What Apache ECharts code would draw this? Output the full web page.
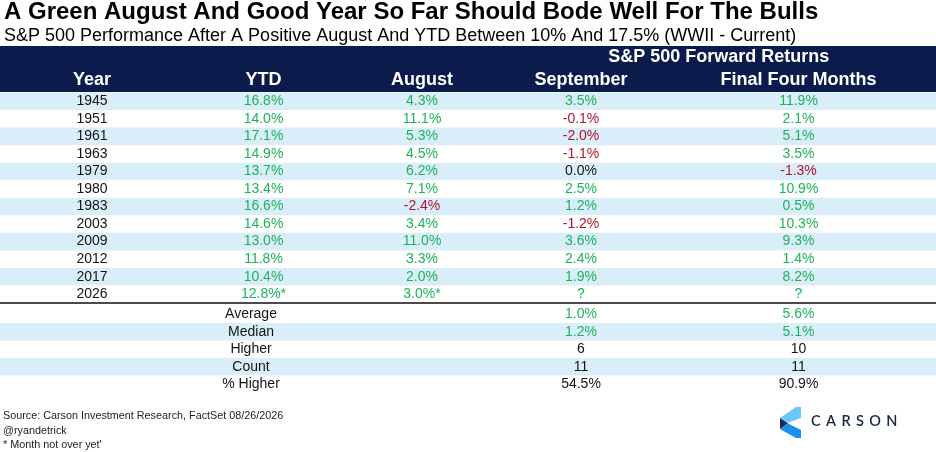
<!DOCTYPE html>
<html><head><meta charset="utf-8">
<script src="https://cdn.jsdelivr.net/npm/echarts@6/dist/echarts.min.js"></script>
<style>html,body{margin:0;padding:0;background:#fff}#c{width:936px;height:452px}</style>
</head><body><div id="c"></div>
<script>
// ---------- data ----------
const titleText = 'A Green August And Good Year So Far Should Bode Well For The Bulls';
const subtitleText = 'S&P 500 Performance After A Positive August And YTD Between 10% And 17.5% (WWII - Current)';
const groupHeader = 'S&P 500 Forward Returns';
const columns = ['Year', 'YTD', 'August', 'September', 'Final Four Months'];
const years = ['1945','1951','1961','1963','1979','1980','1983','2003','2009','2012','2017','2026'];
const ytd = [16.8, 14.0, 17.1, 14.9, 13.7, 13.4, 16.6, 14.6, 13.0, 11.8, 10.4, 12.8];
const august = [4.3, 11.1, 5.3, 4.5, 6.2, 7.1, -2.4, 3.4, 11.0, 3.3, 2.0, 3.0];
const september = [3.5, -0.1, -2.0, -1.1, 0.0, 2.5, 1.2, -1.2, 3.6, 2.4, 1.9, null];
const finalFour = [11.9, 2.1, 5.1, 3.5, -1.3, 10.9, 0.5, 10.3, 9.3, 1.4, 8.2, null];
const partialYears = ['2026'];
const summaryLabels = ['Average', 'Median', 'Higher', 'Count', '% Higher'];
const summarySeptember = [1.0, 1.2, 6, 11, 54.5];
const summaryFinal = [5.6, 5.1, 10, 11, 90.9];
const summaryKinds = ['signed', 'signed', 'count', 'count', 'pct'];
const footerLines = ['Source: Carson Investment Research, FactSet 08/26/2026', '@ryandetrick', "* Month not over yet'"];
const logoText = 'CARSON';

// ---------- style ----------
const FONT = '"Liberation Sans", Arial, Helvetica, sans-serif';
const GREEN = '#1DB35A', RED = '#B3152C', INK = '#141414', NAVY = '#0B1C4C', STRIPE = '#DAEEFA';
const colOffsets = [-1.6, -17.3, -46, -74.2, -43.9];
const summaryLabelOffset = -29.8;
const groupOffset = 63.6;

function pctText(v, star) { return v === null ? '?' : v.toFixed(1) + '%' + (star ? '*' : ''); }
function signColor(v) { return v === null ? GREEN : (v > 0 ? GREEN : (v < 0 ? RED : INK)); }
function summaryText(v, kind) { return kind === 'count' ? String(v) : v.toFixed(1) + '%'; }
function summaryColor(v, kind) { return kind === 'signed' ? signColor(v) : INK; }

function textSeries(xi, yi, offset, items, font) {
  return {
    type: 'scatter', xAxisIndex: xi, yAxisIndex: yi, symbolSize: 1, silent: true, z: 5,
    itemStyle: { color: 'rgba(0,0,0,0)', opacity: 1 },
    label: Object.assign({ show: true, position: 'inside', offset: [offset, 0], fontFamily: FONT,
      fontSize: 14, opacity: 1, textBorderWidth: 0, textShadowBlur: 0, formatter: p => p.value[2] }, font || {}),
    data: items
  };
}
function stripeSeries(xi, yi, flags) {
  return {
    type: 'bar', xAxisIndex: xi, yAxisIndex: yi, barWidth: '100%', silent: true, z: 1,
    itemStyle: { color: STRIPE }, data: flags.map(f => f ? 1 : 0)
  };
}
const hidden = { show: false };
const catX = (g) => ({ type: 'category', gridIndex: g, data: columns, position: 'top', show: false, boundaryGap: true });
const valX = (g, line) => ({ type: 'value', gridIndex: g, min: 0, max: 1, position: 'bottom',
  show: !!line, axisLine: { show: !!line, lineStyle: { color: '#4a4a4a', width: 2 } },
  axisTick: hidden, axisLabel: hidden, splitLine: hidden });

const headFont = { color: '#ffffff', fontSize: 18, fontWeight: 'bold' };
const series = [];
// header
series.push(textSeries(0, 0, 0, columns.map((c, i) => ({ value: [i, 1, c], label: { offset: [colOffsets[i], 0] } })), headFont));
series.push(textSeries(0, 0, groupOffset, [{ value: [3, 0, groupHeader] }], headFont));
// data rows
series.push(stripeSeries(2, 1, years.map((_, i) => i % 2 === 0)));
series.push(textSeries(1, 1, colOffsets[0], years.map((y, i) => ({ value: [0, i, y], label: { color: INK } }))));
series.push(textSeries(1, 1, colOffsets[1], years.map((y, i) => ({ value: [1, i, pctText(ytd[i], partialYears.includes(y))], label: { color: signColor(ytd[i]) } }))));
series.push(textSeries(1, 1, colOffsets[2], years.map((y, i) => ({ value: [2, i, pctText(august[i], partialYears.includes(y))], label: { color: signColor(august[i]) } }))));
series.push(textSeries(1, 1, colOffsets[3], years.map((y, i) => ({ value: [3, i, pctText(september[i], false)], label: { color: signColor(september[i]) } }))));
series.push(textSeries(1, 1, colOffsets[4], years.map((y, i) => ({ value: [4, i, pctText(finalFour[i], false)], label: { color: signColor(finalFour[i]) } }))));
// summary rows
series.push(stripeSeries(4, 2, summaryLabels.map((_, i) => i % 2 === 1)));
series.push(textSeries(3, 2, summaryLabelOffset, summaryLabels.map((s, i) => ({ value: [1, i, s], label: { color: INK } }))));
series.push(textSeries(3, 2, colOffsets[3], summaryLabels.map((s, i) => ({ value: [3, i, summaryText(summarySeptember[i], summaryKinds[i])], label: { color: summaryColor(summarySeptember[i], summaryKinds[i]) } }))));
series.push(textSeries(3, 2, colOffsets[4], summaryLabels.map((s, i) => ({ value: [4, i, summaryText(summaryFinal[i], summaryKinds[i])], label: { color: summaryColor(summaryFinal[i], summaryKinds[i]) } }))));

// logo letters with tracking
const mc = document.createElement('canvas').getContext('2d');
const logoFont = '600 14.5px Lato, "Open Sans", sans-serif';
mc.font = logoFont;
const logoLetters = [];
let lx = 811;
for (const ch of logoText) {
  logoLetters.push({ type: 'text', left: lx, top: 414, style: { text: ch, font: logoFont, fill: '#1A2640' } });
  lx += mc.measureText(ch).width + 5.4;
}

const chart = echarts.init(document.getElementById('c'), null, { renderer: 'canvas' });
chart.setOption({
  animation: false,
  backgroundColor: '#fff',
  grid: [
    { left: 0, right: 0, top: 46, height: 46, show: true, backgroundColor: NAVY, borderWidth: 0 },
    { left: 0, right: 0, top: 92.5, height: 210.5 },
    { left: 0, right: 0, top: 305.5, height: 87.5 }
  ],
  xAxis: [catX(0), catX(1), valX(1, true), catX(2), valX(2, false)],
  yAxis: [
    { type: 'category', gridIndex: 0, data: ['group', 'columns'], inverse: true, show: false },
    { type: 'category', gridIndex: 1, data: years, inverse: true, show: false },
    { type: 'category', gridIndex: 2, data: summaryLabels, inverse: true, show: false }
  ],
  graphic: [
    { type: 'text', left: 4, top: 0, style: { text: titleText, font: 'bold 24px ' + FONT, fill: '#000' } },
    { type: 'text', left: 4, top: 27, style: { text: subtitleText, font: '18px ' + FONT, fill: '#000' } },
    { type: 'text', left: 3, top: 411, style: { text: footerLines[0], font: '10.8px ' + FONT, fill: '#222' } },
    { type: 'text', left: 3, top: 425.5, style: { text: footerLines[1], font: '10.8px ' + FONT, fill: '#222' } },
    { type: 'text', left: 3, top: 440, style: { text: footerLines[2], font: '10.8px ' + FONT, fill: '#222' } },
    { type: 'polygon', shape: { points: [[796, 407], [801, 407], [801, 418], [787, 423], [780, 418]] }, style: { fill: '#6CC8F8' } },
    { type: 'polygon', shape: { points: [[780, 418], [788, 423.5], [780, 429]] }, style: { fill: '#1C2B4B' } },
    { type: 'polygon', shape: { points: [[780, 429], [788, 423.5], [801, 430], [801, 438], [796, 438]] }, style: { fill: '#1A8FEE' } }
  ].concat(logoLetters),
  series: series
});
</script>
</body></html>
